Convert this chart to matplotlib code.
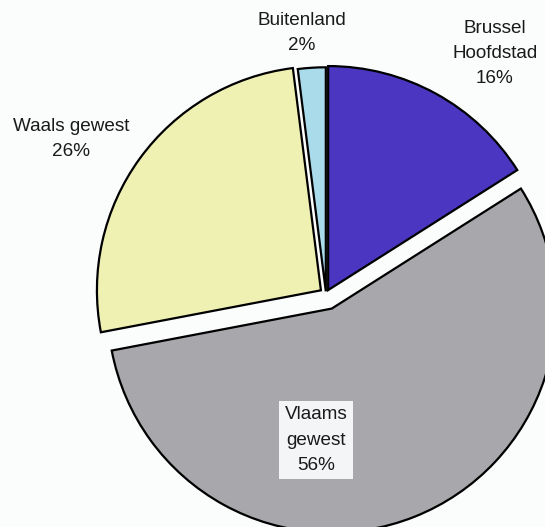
import matplotlib
matplotlib.use('Agg')
import matplotlib.pyplot as plt

# region shares, clockwise from 12 o'clock
regions = ['Brussel\nHoofdstad', 'Vlaams\ngewest', 'Waals gewest', 'Buitenland']
shares = [16, 56, 26, 2]
colors = ['#4a36c0', '#a8a8ac', '#eff1b2', '#a9dbea']
explode = [0.02, 0.07, 0.028, 0.012]

# label anchors in figure fraction (x, y from bottom)
label_pos = [(0.908, 0.899), (0.580, 0.165), (0.130, 0.737), (0.554, 0.937)]

W, H = 545, 527
cx, cy, r = 326, 294, 224   # pie centre / radius in pixels (y from top)

fig = plt.figure(figsize=(W / 100, H / 100), dpi=100)
fig.patch.set_facecolor('#fbfcfc')
ax = fig.add_axes([0, 0, 1, 1])
ax.set_facecolor('#fbfcfc')

ax.pie(shares, colors=colors, explode=explode, startangle=90,
       counterclock=False, radius=1,
       wedgeprops=dict(edgecolor='black', linewidth=1.6, antialiased=True))

ax.set_xlim(-cx / r, (W - cx) / r)
ax.set_ylim(-(H - cy) / r, cy / r)
ax.set_aspect('equal')
ax.axis('off')

for name, val, (x, y) in zip(regions, shares, label_pos):
    txt = f'{name}\n{val}%'
    box = None
    if val > 50:
        box = dict(facecolor='#f4f5f7', edgecolor='none', pad=4)
    fig.text(x, y, txt, ha='center', va='center', fontsize=13.6,
             family='Liberation Sans', color='#1a1a1a',
             linespacing=1.62, bbox=box)

fig.savefig('out.png', dpi=100, facecolor=fig.get_facecolor())
plt.close(fig)
